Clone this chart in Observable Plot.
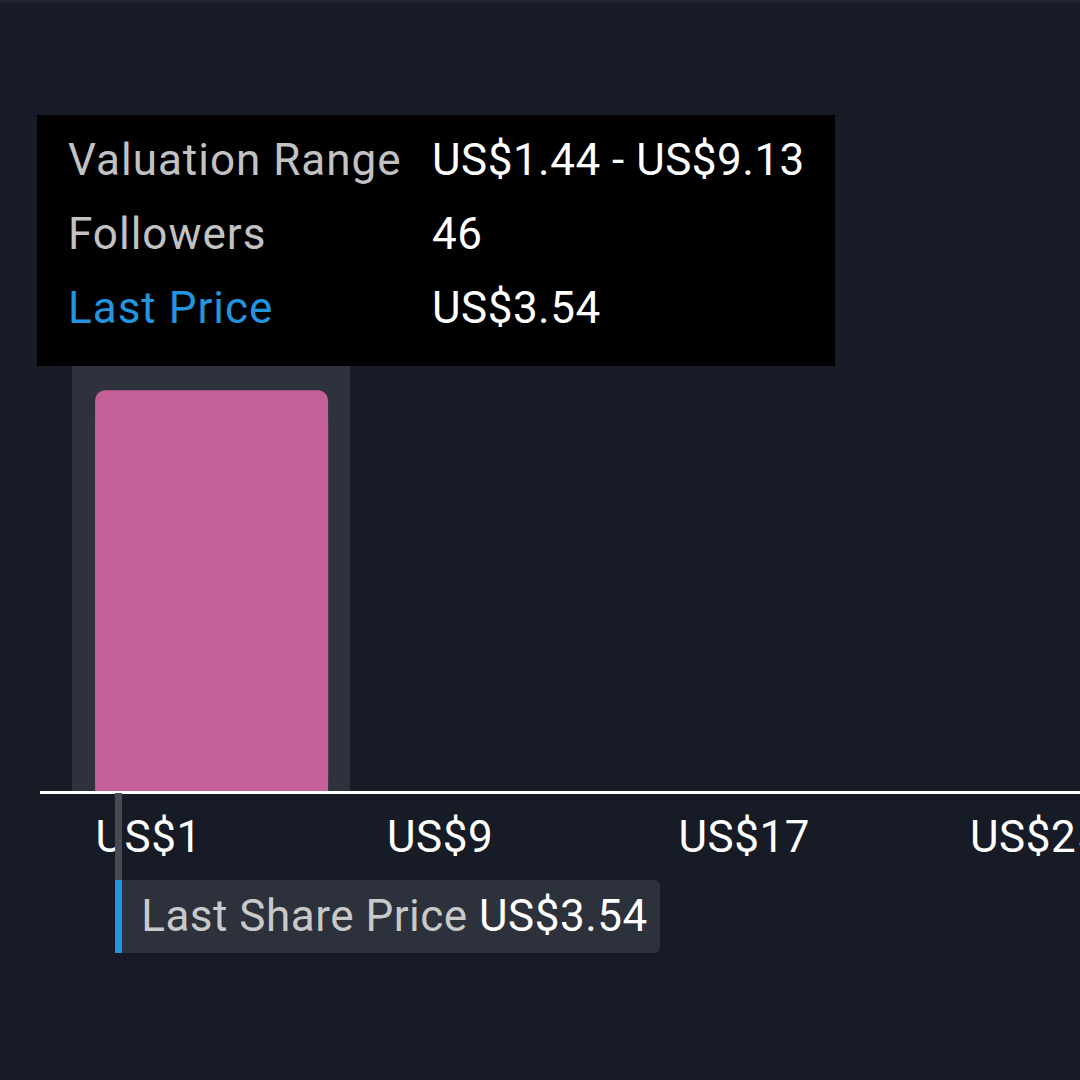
<!DOCTYPE html>
<html><head><meta charset="utf-8">
<script src="https://cdn.jsdelivr.net/npm/d3@7"></script>
<script src="https://cdn.jsdelivr.net/npm/@observablehq/plot@0.6"></script>
<style>
html,body{margin:0;padding:0;background:#161b26;overflow:hidden}
#wrap{position:relative;width:1080px;height:1080px;font-family:Roboto,"Noto Sans",sans-serif;background:#161b26}
#topstrip{position:absolute;left:0;top:0;width:1080px;height:3px;background:#1f2432}
.tip{position:absolute;left:37px;top:115px;width:798px;height:251px;background:#000}
.row{position:absolute;left:0;width:100%;height:74px;line-height:74px;font-size:44px;white-space:nowrap}
.row .k{position:absolute;left:31px;color:#c2c2c2;letter-spacing:1px}
.row .v{position:absolute;left:395px;color:#fff;letter-spacing:0.5px}
.conn{position:absolute;background:#454a53}
.mark{position:absolute;background:#2394df}
.lbl{position:absolute;background:#2c313b;border-radius:0 6px 6px 0;font-size:44px;letter-spacing:0.5px;line-height:73px;white-space:nowrap;box-sizing:border-box;padding-left:19px;color:#c9c9c9}
.lbl b{font-weight:normal;color:#fff}
</style></head><body><div id="wrap"><div id="topstrip"></div></div>
<script>
// ---- data ----
const binStart = [0.37];          // hovered bin edges (axis units)
const binEnd = [8.0];
const followers = [46];           // bin height
const tickValues = [1, 9, 17, 25];
const valuationRange = ["US$1.44", "US$9.13"];
const lastPriceText = "US$3.54";
const markerAt = [1.65];          // position of last-price marker

const bins = binStart.map((s, i) => ({start: s, end: binEnd[i], count: followers[i]}));
const fmt = d => `US$${d}`;

const axisMark = (typeof Plot.axisX === "function")
  ? Plot.axisX({ticks: tickValues, tickFormat: fmt, tickSize: 0, tickPadding: 29, textAnchor: "start", fill: "#ffffff", fontSize: 44, label: null, style: {letterSpacing: "0.5px"}})
  : Plot.text(tickValues, {x: d => d, frameAnchor: "bottom", lineAnchor: "top", dy: 29, textAnchor: "start", text: fmt, fill: "#ffffff", fontSize: 44});

const plot = Plot.plot({
  width: 1080, height: 1080,
  marginLeft: 40, marginRight: 0, marginTop: 338, marginBottom: 289,
  style: {background: "transparent", color: "#ffffff", fontFamily: "Roboto, 'Noto Sans', sans-serif", fontSize: "44px", letterSpacing: "0.5px"},
  x: {domain: [-0.51, 28.03], axis: null},
  y: {domain: [0, 52], axis: null},
  marks: [
    Plot.rect(bins, {x1: "start", x2: "end", fill: "#2d323c"}),
    Plot.rectY(bins, {x1: "start", x2: "end", y: "count", fill: "#c45f97", rx: 10, insetLeft: 23, insetRight: 22}),
    Plot.rectY(bins, {x1: "start", x2: "end", y: "count", fill: "#c45f97", insetLeft: 23, insetRight: 22, insetTop: 30}),
    Plot.ruleY([0], {stroke: "#ffffff", strokeWidth: 3, dy: 1}),
    axisMark
  ]
});
const wrap = document.getElementById("wrap");
plot.style.position = "absolute";
plot.style.left = "0px";
plot.style.top = "0px";
wrap.appendChild(plot);

// last share price marker, positioned through the plot's x scale
const xs = plot.scale("x");
const px = xs.apply(markerAt[0]);
const conn = document.createElement("div");
conn.className = "conn";
Object.assign(conn.style, {left: (px - 3.5) + "px", top: "793px", width: "7px", height: "87px"});
wrap.appendChild(conn);
const mk = document.createElement("div");
mk.className = "mark";
Object.assign(mk.style, {left: (px - 3.5) + "px", top: "880px", width: "7px", height: "73px"});
wrap.appendChild(mk);
const lbl = document.createElement("div");
lbl.className = "lbl";
Object.assign(lbl.style, {left: (px + 3.5) + "px", top: "880px", width: (660 - px - 3.5) + "px", height: "73px"});
lbl.innerHTML = `Last Share Price <b>${lastPriceText}</b>`;
wrap.appendChild(lbl);

// tooltip
const tip = document.createElement("div");
tip.className = "tip";
const rows = [
  ["Valuation Range", `${valuationRange[0]} - ${valuationRange[1]}`, "#c2c2c2"],
  ["Followers", String(followers[0]), "#c2c2c2"],
  ["Last Price", lastPriceText, "#2394df"]
];
rows.forEach((r, i) => {
  const d = document.createElement("div");
  d.className = "row";
  d.style.top = (8 + i * 74) + "px";
  d.innerHTML = `<span class="k" style="color:${r[2]}">${r[0]}</span><span class="v">${r[1]}</span>`;
  tip.appendChild(d);
});
wrap.appendChild(tip);
</script>
</body></html>
